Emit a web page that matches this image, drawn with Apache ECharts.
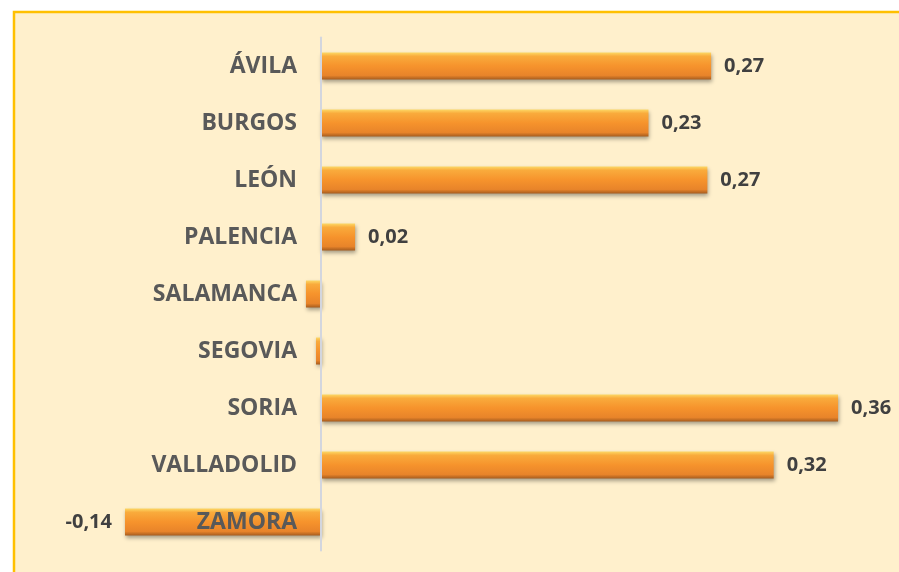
<!DOCTYPE html>
<html><head><meta charset="utf-8">
<script src="https://cdn.jsdelivr.net/npm/echarts@6/dist/echarts.min.js"></script>
<style>html,body{margin:0;padding:0;background:#fff;}#c{width:899px;height:572px;}</style>
</head><body><div id="c"></div>
<script>
const categories = ['ÁVILA','BURGOS','LEÓN','PALENCIA','SALAMANCA','SEGOVIA','SORIA','VALLADOLID','ZAMORA'];
const values = [0.2716, 0.2280, 0.2690, 0.0237, -0.0105, -0.0035, 0.3600, 0.3152, -0.1365];
const shownLabels = [true, true, true, true, false, false, true, true, true];

const chart = echarts.init(document.getElementById('c'), null, {renderer:'canvas'});
const barColor = new echarts.graphic.LinearGradient(0,0,0,1,[
  {offset:0, color:'#FDD865'},
  {offset:0.14, color:'#F9AB3C'},
  {offset:0.5, color:'#F6932C'},
  {offset:0.85, color:'#E8842A'},
  {offset:1, color:'#A65C1E'}
]);
const gridLeft = 105.6, gridWidth = 789.9, xMin = -0.15, xMax = 0.4;
const zeroOffset = gridWidth * (0 - xMin) / (xMax - xMin);
chart.setOption({
  animation:false,
  graphic:[{type:'rect', z:-10, shape:{x:14, y:12, width:900, height:600}, style:{fill:'#FFF0CC', stroke:'#FFC000', lineWidth:2.5}}],
  grid:{left:gridLeft, width:gridWidth, top:37.5, bottom:21.5, containLabel:false, outerBoundsMode:'none'},
  xAxis:{type:'value', min:xMin, max:xMax, show:false},
  yAxis:{type:'category', data:categories, inverse:true, z:10,
    offset:-zeroOffset,
    axisLine:{onZero:false, lineStyle:{color:'#D3D6DE', width:2}},
    axisTick:{show:false},
    axisLabel:{margin:24, fontFamily:'Open Sans', fontWeight:'bold', fontSize:23, color:'#595959'}
  },
  series:[{type:'bar', barWidth:27,
    data: values.map((v,i)=>({value:v, label:{show:shownLabels[i], position: v<0?'left':'right'}})),
    itemStyle:{color:barColor, shadowColor:'rgba(0,0,0,0.35)', shadowBlur:4, shadowOffsetY:2, shadowOffsetX:1},
    label:{distance:13, fontFamily:'Open Sans', fontWeight:'bold', fontSize:20, color:'#404040',
      formatter:p=>p.value.toFixed(2).replace('.',',')}
  }]
});
</script></body></html>
